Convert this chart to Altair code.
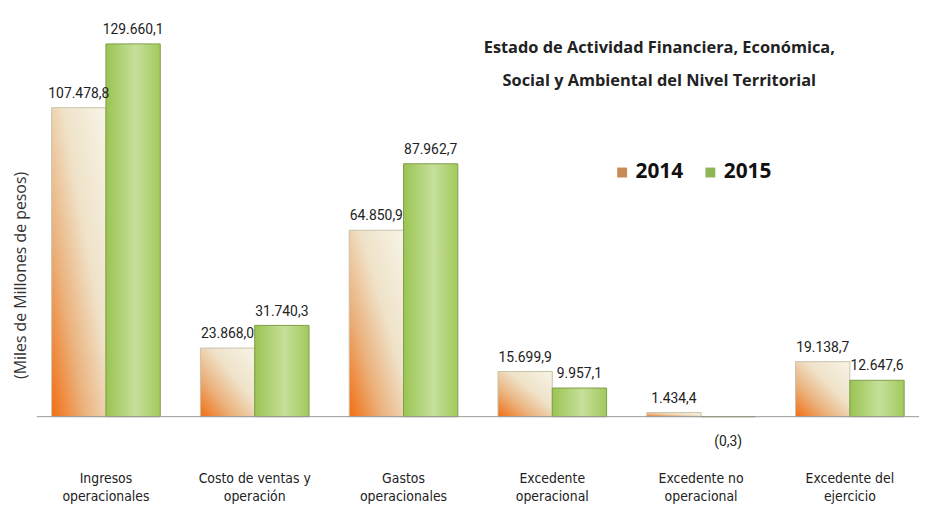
import altair as alt
import pandas as pd

categories = ["Ingresos\noperacionales", "Costo de ventas y\noperación", "Gastos\noperacionales",
              "Excedente\noperacional", "Excedente  no\noperacional", "Excedente del\nejercicio"]
years = ["2014", "2015"]
values_2014 = [107478.8, 23868.0, 64850.9, 15699.9, 1434.4, 19138.7]
values_2015 = [129660.1, 31740.3, 87962.7, 9957.1, -0.3, 12647.6]


def fmt(v):
    s = f"{abs(v):,.1f}".replace(",", "X").replace(".", ",").replace("X", ".")
    return f"({s})" if v < 0 else s


rows = []
for c, a, b in zip(categories, values_2014, values_2015):
    rows.append({"cat": c, "year": "2014", "value": a, "label": fmt(a)})
    rows.append({"cat": c, "year": "2015", "value": b, "label": fmt(b)})
df = pd.DataFrame(rows)

base = alt.Chart(df)

x_enc = alt.X("cat:N", sort=categories,
              scale=alt.Scale(paddingInner=0.27, paddingOuter=0.1),
              axis=alt.Axis(title=None, domain=False, ticks=False, labelAngle=0,
                            labelExpr="split(datum.label, '\\n')",
                            labelFont="Liberation Sans Narrow, DejaVu Sans Condensed, sans-serif",
                            labelFontSize=14, labelColor="#222", labelLineHeight=19,
                            labelPadding=8, labelBaseline="top"))
xo_enc = alt.XOffset("year:N", scale=alt.Scale(domain=years, paddingInner=0, paddingOuter=0))
y_enc = alt.Y("value:Q", scale=alt.Scale(domain=[-16200, 133800], nice=False, zero=False),
              axis=alt.Axis(title="(Miles de Millones de pesos)", domain=False, ticks=False,
                            labels=False, grid=False, titleFont="Open Sans", titleFontSize=16,
                            titleFontWeight="normal", titleColor="#333", titleAngle=-90,
                            titleX=-16, titleY=245, titleAlign="center", titleBaseline="middle"))

grad14 = alt.Gradient(gradient="linear", x1=0, y1=1, x2=1, y2=0, stops=[
    alt.GradientStop(color="#F26E12", offset=0),
    alt.GradientStop(color="#EBB07A", offset=0.3),
    alt.GradientStop(color="#EFE2C8", offset=0.6),
    alt.GradientStop(color="#F7F4E6", offset=1)])
grad15 = alt.Gradient(gradient="linear", x1=0, y1=0, x2=1, y2=0, stops=[
    alt.GradientStop(color="#9AC452", offset=0),
    alt.GradientStop(color="#C6E09A", offset=0.55),
    alt.GradientStop(color="#A2C95C", offset=1)])

bars14 = base.transform_filter(alt.datum.year == "2014").mark_bar(
    color=grad14, stroke="#C9C2AC", strokeWidth=1).encode(x=x_enc, xOffset=xo_enc, y=y_enc, y2=alt.datum(0))
bars15 = base.transform_filter(alt.datum.year == "2015").mark_bar(
    color=grad15, stroke="#7E9E48", strokeWidth=1).encode(x=x_enc, xOffset=xo_enc, y=y_enc, y2=alt.datum(0))

legend_layer = base.mark_square(opacity=0).encode(
    x=x_enc, xOffset=xo_enc, y=y_enc,
    color=alt.Color("year:N", scale=alt.Scale(domain=years, range=["#C98A56", "#8DB655"]),
                    legend=alt.Legend(title=None, orient="none", direction="horizontal",
                                      legendX=580, legendY=131, symbolType="square",
                                      symbolSize=100, symbolOpacity=1, symbolStrokeWidth=0,
                                      labelFont="Open Sans", labelFontSize=21,
                                      labelFontWeight="bold", labelColor="#111",
                                      labelOffset=3, columnPadding=16)))

rule = alt.Chart(pd.DataFrame({"z": [0]})).mark_rule(color="#999", strokeWidth=1).encode(y=alt.datum(0))

labels_pos = base.transform_filter(alt.datum.value >= 0).mark_text(
    baseline="bottom", dy=-7, font="Roboto", fontSize=14, color="#222").encode(
    x=x_enc, xOffset=xo_enc, y=y_enc, text="label:N")
labels_neg = base.transform_filter(alt.datum.value < 0).mark_text(
    baseline="top", dy=19, font="Roboto", fontSize=14, color="#222").encode(
    x=x_enc, xOffset=xo_enc, y=y_enc, text="label:N")

title = alt.Chart(pd.DataFrame({"z": [0]})).mark_text(
    font="Open Sans", fontSize=16.5, fontWeight="bold", color="#222", align="center",
    baseline="middle", lineHeight=33).encode(
    x=alt.value(628), y=alt.value(16),
    text=alt.value(["Estado de Actividad Financiera, Económica,",
                    "Social y Ambiental del Nivel Territorial"]))

chart = alt.layer(bars14, bars15, legend_layer, rule, labels_pos, labels_neg, title).properties(
    width=890, height=435, autosize=alt.AutoSizeParams(type="none"),
    padding={"left": 29, "top": 22, "right": 5, "bottom": 50}
).configure(background="white", view={"stroke": "transparent", "strokeWidth": 0})

chart.save("out.html", embed_options={"renderer": "svg", "actions": False})
